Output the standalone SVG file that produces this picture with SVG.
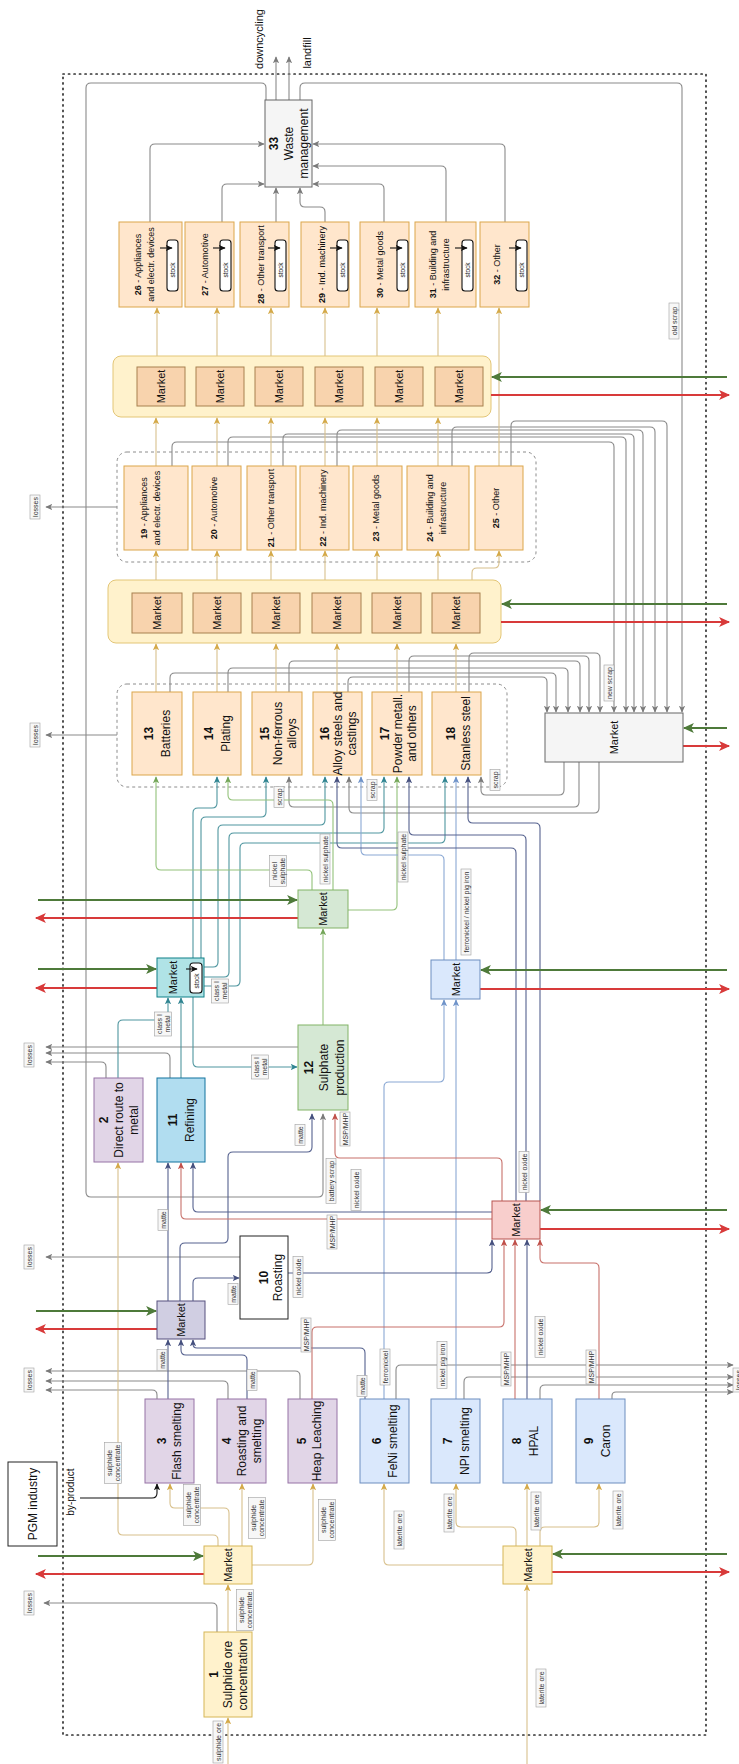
<svg xmlns="http://www.w3.org/2000/svg" width="739" height="1764" viewBox="0 0 739 1764">
<defs>
<style>
.n{font-family:"Liberation Sans",Arial,Helvetica,sans-serif;fill:#111;text-anchor:middle;dominant-baseline:central}
.f12{font-size:12px}.f11{font-size:11px}.f9{font-size:9px}.f7{font-size:6.5px}
.b{font-weight:bold}
.prod{fill:#ffe6cc;stroke:#dba64b}
.mk{fill:#f8d3ad;stroke:#a8804f}
.row{fill:#fff2cc;stroke:#e3c677}
.yel{fill:#fff2cc;stroke:#d6b656}
.pur{fill:#e1d5e7;stroke:#9673a6}
.blu{fill:#dae8fc;stroke:#6c8ebf}
.grn{fill:#d5e8d4;stroke:#82b366}
.red{fill:#f8cecc;stroke:#b85450}
.gry{fill:#f5f5f5;stroke:#666}
.ref{fill:#b1ddf0;stroke:#10739e}
.tea{fill:#b0e3e6;stroke:#0e8088}
.mat{fill:#d0cee2;stroke:#56517e}
.wht{fill:#fff;stroke:#222}
.cont{fill:none;stroke:#8c8c8c;stroke-dasharray:3 3}
.stk{fill:#fff;stroke:#111;stroke-width:1.1}
.cg,.ct,.ce,.cn,.cl,.cs,.cr,.ck,.tg,.tr{fill:none;stroke-width:1.1}
.cg{stroke:#8a8a8a;marker-end:url(#mg)}
.ct{stroke:#d8c08c;marker-end:url(#mt)}
.ce{stroke:#4f969f;marker-end:url(#me)}
.cn{stroke:#56628f;marker-end:url(#mn)}
.cl{stroke:#8aa8d4;marker-end:url(#ml)}
.cs{stroke:#93c27a;marker-end:url(#ms)}
.cr{stroke:#c8716b;marker-end:url(#mr)}
.ck{stroke:#111;marker-end:url(#mk)}
.tg{stroke:#4e7a3a;stroke-width:1.8;marker-end:url(#TG)}
.tr{stroke:#d83a3a;stroke-width:1.8;marker-end:url(#TR)}
.lb rect{fill:#f7f7f7;stroke:#a0a0a0;stroke-width:.6}
.lb text{font-family:"Liberation Sans",Arial,Helvetica,sans-serif;font-size:7px;fill:#333;text-anchor:middle;dominant-baseline:central}
</style>
<marker id="mg" viewBox="0 0 10 10" refX="9" refY="5" markerWidth="7" markerHeight="7" markerUnits="userSpaceOnUse" orient="auto"><path d="M0,0.5L10,5L0,9.5L2.5,5z" fill="#7a7a7a"/></marker>
<marker id="mt" viewBox="0 0 10 10" refX="9" refY="5" markerWidth="7" markerHeight="7" markerUnits="userSpaceOnUse" orient="auto"><path d="M0,0.5L10,5L0,9.5L2.5,5z" fill="#d4a948"/></marker>
<marker id="me" viewBox="0 0 10 10" refX="9" refY="5" markerWidth="7" markerHeight="7" markerUnits="userSpaceOnUse" orient="auto"><path d="M0,0.5L10,5L0,9.5L2.5,5z" fill="#2f8491"/></marker>
<marker id="mn" viewBox="0 0 10 10" refX="9" refY="5" markerWidth="7" markerHeight="7" markerUnits="userSpaceOnUse" orient="auto"><path d="M0,0.5L10,5L0,9.5L2.5,5z" fill="#45507e"/></marker>
<marker id="ml" viewBox="0 0 10 10" refX="9" refY="5" markerWidth="7" markerHeight="7" markerUnits="userSpaceOnUse" orient="auto"><path d="M0,0.5L10,5L0,9.5L2.5,5z" fill="#6f93c9"/></marker>
<marker id="ms" viewBox="0 0 10 10" refX="9" refY="5" markerWidth="7" markerHeight="7" markerUnits="userSpaceOnUse" orient="auto"><path d="M0,0.5L10,5L0,9.5L2.5,5z" fill="#73a558"/></marker>
<marker id="mr" viewBox="0 0 10 10" refX="9" refY="5" markerWidth="7" markerHeight="7" markerUnits="userSpaceOnUse" orient="auto"><path d="M0,0.5L10,5L0,9.5L2.5,5z" fill="#c0504a"/></marker>
<marker id="mk" viewBox="0 0 10 10" refX="9" refY="5" markerWidth="7" markerHeight="7" markerUnits="userSpaceOnUse" orient="auto"><path d="M0,0.5L10,5L0,9.5L2.5,5z" fill="#111"/></marker>
<marker id="TG" viewBox="0 0 10 10" refX="9" refY="5" markerWidth="12" markerHeight="11" markerUnits="userSpaceOnUse" orient="auto"><path d="M0,0.5L10,5L0,9.5L2.5,5z" fill="#4e7a3a"/></marker>
<marker id="TR" viewBox="0 0 10 10" refX="9" refY="5" markerWidth="12" markerHeight="11" markerUnits="userSpaceOnUse" orient="auto"><path d="M0,0.5L10,5L0,9.5L2.5,5z" fill="#d83a3a"/></marker>
</defs>
<rect width="739" height="1764" fill="#fff"/>
<rect x="63" y="74" width="643" height="1661" fill="none" stroke="#333" stroke-width="1.7" stroke-dasharray="1.2 4.3" stroke-linecap="round"/>

<g id="row2"><rect class="row" x="113" y="356" width="378" height="61" rx="8"/></g>
<g id="row1"><rect class="row" x="108" y="580" width="393" height="63" rx="8"/></g>
<g id="use-group"><rect class="cont" x="117" y="452" width="419" height="110" rx="10"/></g>
<g id="fab-group"><rect class="cont" x="117" y="684" width="390" height="103" rx="10"/></g>

<g id="connectors">
<path class="cg" d="M266,100V88Q266,83 261,83H91Q86,83 86,88V1192Q86,1197 91,1197H318Q323,1197 323,1192V1114"/>
<path class="cg" d="M300,100V88Q300,83 305,83H677Q682,83 682,88V712"/>
<path class="cg" d="M276,100V57"/>
<path class="cg" d="M289,100V57"/>
<path class="cg" d="M150,222V149Q150,144 155,144H264"/>
<path class="cg" d="M222,222V189Q222,184 227,184H264"/>
<path class="cg" d="M276,222V188"/>
<path class="cg" d="M325,222V212Q325,207 320,207H305Q300,207 300,202V188"/>
<path class="cg" d="M384,222V189Q384,184 379,184H313"/>
<path class="cg" d="M446,222V171Q446,166 441,166H313"/>
<path class="cg" d="M505,222V149Q505,144 500,144H313"/>
<path class="cg" d="M172,466V447Q172,442 177,442H609Q614,442 614,447V712"/>
<path class="cg" d="M228,466V442Q228,437 233,437H621Q626,437 626,442V712"/>
<path class="cg" d="M283,466V439Q283,434 288,434H629Q634,434 634,439V712"/>
<path class="cg" d="M337,466V435Q337,430 342,430H638Q643,430 643,435V712"/>
<path class="cg" d="M452,466V432Q452,427 457,427H650Q655,427 655,432V712"/>
<path class="cg" d="M511,466V426Q511,421 516,421H662Q667,421 667,426V712"/>
<path class="cg" d="M348,692V682Q348,677 353,677H542Q547,677 547,682V712"/>
<path class="cg" d="M170,692V678Q170,673 175,673H551Q556,673 556,678V712"/>
<path class="cg" d="M228,692V673Q228,668 233,668H563Q568,668 568,673V712"/>
<path class="cg" d="M289,692V666Q289,661 294,661H575Q580,661 580,666V712"/>
<path class="cg" d="M409,692V661Q409,656 414,656H584Q589,656 589,661V712"/>
<path class="cg" d="M469,692V658Q469,653 474,653H595Q600,653 600,658V712"/>
<path class="cg" d="M117,507H46"/>
<path class="cg" d="M117,735H46"/>
<path class="cg" d="M298,1047H46"/>
<path class="cg" d="M170,1078V1058Q170,1053 165,1053H46"/>
<path class="cg" d="M106,1078V1067Q106,1062 101,1062H46"/>
<path class="cg" d="M240,1257H46"/>
<path class="cg" d="M300,1399V1376Q300,1371 295,1371H46"/>
<path class="cg" d="M228,1399V1386Q228,1381 223,1381H46"/>
<path class="cg" d="M157,1399V1395Q157,1390 152,1390H46"/>
<path class="cg" d="M217,1632V1608Q217,1603 212,1603H44"/>
<path class="cg" d="M396,1399V1370Q396,1365 401,1365H733"/>
<path class="cg" d="M464,1399V1382Q464,1377 469,1377H733"/>
<path class="cg" d="M540,1399V1390Q540,1385 545,1385H733"/>
<path class="cg" d="M612,1399V1396Q612,1392 616,1392H733"/>
<path class="cg" d="M564,762V790Q564,795 559,795H486Q481,795 481,790V777"/>
<path class="cg" d="M579,762V802Q579,807 574,807H294Q289,807 289,802V777"/>
<path class="cg" d="M599,762V808Q599,813 594,813H354Q349,813 349,808V777"/>
<path class="ct" d="M157,356V308"/><path class="ct" d="M217,356V308"/><path class="ct" d="M271,356V308"/>
<path class="ct" d="M325,356V308"/><path class="ct" d="M377,356V308"/><path class="ct" d="M438,356V308"/>
<path class="ct" d="M499,466V308"/>
<path class="ct" d="M156,466V418"/><path class="ct" d="M217,466V418"/><path class="ct" d="M271,466V418"/>
<path class="ct" d="M325,466V418"/><path class="ct" d="M377,466V418"/><path class="ct" d="M438,466V418"/>
<path class="ct" d="M156,580V551"/><path class="ct" d="M217,580V551"/><path class="ct" d="M271,580V551"/>
<path class="ct" d="M325,580V551"/><path class="ct" d="M377,580V551"/><path class="ct" d="M438,580V551"/>
<path class="ct" d="M472,580V573Q472,568 477,568H494Q499,568 499,563V551"/>
<path class="ct" d="M156,692V644"/><path class="ct" d="M217,692V644"/><path class="ct" d="M276,692V644"/>
<path class="ct" d="M337,692V644"/><path class="ct" d="M397,692V644"/><path class="ct" d="M456,692V644"/>
<path class="ct" d="M228,1764V1718"/>
<path class="ct" d="M228,1632V1585"/>
<path class="ct" d="M218,1546V1540Q218,1535 213,1535H123Q118,1535 118,1530V1163"/>
<path class="ct" d="M229,1546V1513Q229,1508 224,1508H175Q170,1508 170,1503V1484"/>
<path class="ct" d="M242,1546V1484"/>
<path class="ct" d="M252,1565H308Q313,1565 313,1560V1484"/>
<path class="ct" d="M527,1764V1585"/>
<path class="ct" d="M503,1565H389Q384,1565 384,1560V1484"/>
<path class="ct" d="M516,1546V1532Q516,1527 511,1527H461Q456,1527 456,1522V1484"/>
<path class="ct" d="M527,1546V1484"/>
<path class="ct" d="M540,1546V1532Q540,1527 545,1527H594Q599,1527 599,1522V1484"/>
<path class="ck" d="M80,1498H152Q157,1498 157,1493V1484"/>
<path class="ce" d="M118,1078V1025Q118,1020 123,1020H163Q168,1020 168,1015V998"/>
<path class="ce" d="M181,1078V998"/>
<path class="ce" d="M193,997V1062Q193,1067 198,1067H297"/>
<path class="ce" d="M193,958V813Q193,808 198,808H212Q217,808 217,803V777"/>
<path class="ce" d="M201,958V822Q201,817 206,817H261Q266,817 266,812V777"/>
<path class="ce" d="M204,967H213Q218,967 218,962V830Q218,825 223,825H320Q325,825 325,820V777"/>
<path class="ce" d="M204,977H224Q229,977 229,972V838Q229,833 234,833H379Q384,833 384,828V777"/>
<path class="ce" d="M204,986H235Q240,986 240,981V848Q240,843 245,843H440Q445,843 445,838V777"/>
<path class="cs" d="M312,890V875Q312,870 307,870H161Q156,870 156,865V777"/>
<path class="cs" d="M333,890V805Q333,800 328,800H233Q228,800 228,795V777"/>
<path class="cs" d="M348,910H392Q397,910 397,905V777"/>
<path class="cs" d="M323,1025V929"/>
<path class="cl" d="M444,960V860Q444,855 439,855H366Q361,855 361,850V777"/>
<path class="cl" d="M456,960V777"/>
<path class="cl" d="M384,1399V1087Q384,1082 389,1082H439Q444,1082 444,1077V1000"/>
<path class="cl" d="M456,1399V1000"/>
<path class="cn" d="M540,1201V828Q540,823 535,823H473Q468,823 468,818V777"/>
<path class="cn" d="M526,1201V840Q526,835 521,835H414Q409,835 409,830V777"/>
<path class="cn" d="M516,1201V853Q516,848 511,848H342Q337,848 337,843V777"/>
<path class="cn" d="M168,1301V1163"/>
<path class="cn" d="M180,1301V1248Q180,1243 185,1243H223Q228,1243 228,1238V1157Q228,1152 233,1152H307Q312,1152 312,1147V1114"/>
<path class="cn" d="M193,1301V1283Q193,1278 198,1278H239"/>
<path class="cn" d="M168,1399V1340"/>
<path class="cn" d="M247,1399V1360Q247,1355 242,1355H186Q181,1355 181,1350V1340"/>
<path class="cn" d="M365,1399V1353Q365,1348 360,1348H197Q193,1348 193,1344V1340"/>
<path class="cn" d="M288,1273H487Q492,1273 492,1268V1240"/>
<path class="cn" d="M492,1212H198Q193,1212 193,1207V1163"/>
<path class="cn" d="M527,1399V1240"/>
<path class="cr" d="M492,1219H186Q181,1219 181,1214V1163"/>
<path class="cr" d="M502,1201V1163Q502,1158 497,1158H340Q335,1158 335,1153V1114"/>
<path class="cr" d="M312,1399V1332Q312,1327 317,1327H499Q504,1327 504,1322V1240"/>
<path class="cr" d="M515,1399V1240"/>
<path class="cr" d="M599,1399V1268Q599,1263 594,1263H545Q540,1263 540,1258V1240"/>
<path class="tg" d="M38,1556H203"/><path class="tr" d="M204,1574H36"/>
<path class="tg" d="M36,1311H156"/><path class="tr" d="M157,1329H36"/>
<path class="tg" d="M38,969H156"/><path class="tr" d="M157,988H36"/>
<path class="tg" d="M38,900H297"/><path class="tr" d="M298,918H36"/>
<path class="tg" d="M727,377H492"/><path class="tr" d="M491,395H729"/>
<path class="tg" d="M727,604H502"/><path class="tr" d="M501,622H729"/>
<path class="tg" d="M727,728H684"/><path class="tr" d="M683,746H729"/>
<path class="tg" d="M727,970H481"/><path class="tr" d="M480,989H729"/>
<path class="tg" d="M727,1210H541"/><path class="tr" d="M540,1229H729"/>
<path class="tg" d="M727,1554H553"/><path class="tr" d="M552,1572H729"/>
</g>

<g id="n26"><rect class="prod" x="119" y="222" width="63" height="85"/><text class="n f9" transform="translate(144.5,264.5) rotate(-90)"><tspan x="0" y="-6.5"><tspan class="b">26</tspan> - Appliances</tspan><tspan x="0" y="6.5">and electr. devices</tspan></text><rect class="stk" x="167" y="240" width="11" height="51" rx="3"/><text class="n f7" transform="translate(172.5,270) rotate(-90)">stock</text><path class="ck" d="M160,248H172"/></g>
<g id="n27"><rect class="prod" x="185" y="222" width="49" height="85"/><text class="n f9" transform="translate(205,264.5) rotate(-90)"><tspan class="b">27</tspan> - Automotive</text><rect class="stk" x="220" y="240" width="11" height="51" rx="3"/><text class="n f7" transform="translate(225.5,270) rotate(-90)">stock</text><path class="ck" d="M213,248H225"/></g>
<g id="n28"><rect class="prod" x="240" y="222" width="49" height="85"/><text class="n f9" transform="translate(261,264.5) rotate(-90)"><tspan class="b">28</tspan> - Other transport</text><rect class="stk" x="275" y="240" width="11" height="51" rx="3"/><text class="n f7" transform="translate(280.5,270) rotate(-90)">stock</text><path class="ck" d="M268,248H280"/></g>
<g id="n29"><rect class="prod" x="301" y="222" width="48" height="85"/><text class="n f9" transform="translate(322,264.5) rotate(-90)"><tspan class="b">29</tspan> - Ind. machinery</text><rect class="stk" x="337" y="240" width="11" height="51" rx="3"/><text class="n f7" transform="translate(342.5,270) rotate(-90)">stock</text><path class="ck" d="M330,248H342"/></g>
<g id="n30"><rect class="prod" x="360" y="222" width="49" height="85"/><text class="n f9" transform="translate(380,264.5) rotate(-90)"><tspan class="b">30</tspan> - Metal goods</text><rect class="stk" x="397" y="240" width="11" height="51" rx="3"/><text class="n f7" transform="translate(402.5,270) rotate(-90)">stock</text><path class="ck" d="M390,248H402"/></g>
<g id="n31"><rect class="prod" x="415" y="222" width="61" height="85"/><text class="n f9" transform="translate(439,264.5) rotate(-90)"><tspan x="0" y="-6.5"><tspan class="b">31</tspan> - Building and</tspan><tspan x="0" y="6.5">infrastructure</tspan></text><rect class="stk" x="462" y="240" width="11" height="51" rx="3"/><text class="n f7" transform="translate(467.5,270) rotate(-90)">stock</text><path class="ck" d="M455,248H467"/></g>
<g id="n32"><rect class="prod" x="480" y="222" width="49" height="85"/><text class="n f9" transform="translate(497,264.5) rotate(-90)"><tspan class="b">32</tspan> - Other</text><rect class="stk" x="516" y="240" width="11" height="51" rx="3"/><text class="n f7" transform="translate(521.5,270) rotate(-90)">stock</text><path class="ck" d="M509,248H521"/></g>

<g id="n33"><rect class="gry" x="265" y="100" width="47" height="87"/><text class="n f12" transform="translate(288.5,143.5) rotate(-90)"><tspan x="0" y="-15" class="b">33</tspan><tspan x="0" y="0">Waste</tspan><tspan x="0" y="15">management</tspan></text></g>
<text class="n f11" transform="translate(259,39) rotate(-90)">downcycling</text>
<text class="n f11" transform="translate(307,53) rotate(-90)">landfill</text>

<g id="mkt2-1"><rect class="mk" x="137" y="367" width="48" height="39"/><text class="n f11" transform="translate(161,386.5) rotate(-90)">Market</text></g>
<g id="mkt2-2"><rect class="mk" x="196" y="367" width="48" height="39"/><text class="n f11" transform="translate(220,386.5) rotate(-90)">Market</text></g>
<g id="mkt2-3"><rect class="mk" x="255" y="367" width="48" height="39"/><text class="n f11" transform="translate(279,386.5) rotate(-90)">Market</text></g>
<g id="mkt2-4"><rect class="mk" x="315" y="367" width="48" height="39"/><text class="n f11" transform="translate(339,386.5) rotate(-90)">Market</text></g>
<g id="mkt2-5"><rect class="mk" x="375" y="367" width="48" height="39"/><text class="n f11" transform="translate(399,386.5) rotate(-90)">Market</text></g>
<g id="mkt2-6"><rect class="mk" x="435" y="367" width="48" height="39"/><text class="n f11" transform="translate(459,386.5) rotate(-90)">Market</text></g>

<g id="n19"><rect class="prod" x="124" y="466" width="64" height="84"/><text class="n f9" transform="translate(150.5,508) rotate(-90)"><tspan x="0" y="-6.5"><tspan class="b">19</tspan> - Appliances</tspan><tspan x="0" y="6.5">and electr. devices</tspan></text></g>
<g id="n20"><rect class="prod" x="192" y="466" width="49" height="84"/><text class="n f9" transform="translate(214,508) rotate(-90)"><tspan class="b">20</tspan> - Automotive</text></g>
<g id="n21"><rect class="prod" x="247" y="466" width="49" height="84"/><text class="n f9" transform="translate(271,508) rotate(-90)"><tspan class="b">21</tspan> - Other transport</text></g>
<g id="n22"><rect class="prod" x="300" y="466" width="49" height="84"/><text class="n f9" transform="translate(323,508) rotate(-90)"><tspan class="b">22</tspan> - Ind. machinery</text></g>
<g id="n23"><rect class="prod" x="353" y="466" width="49" height="84"/><text class="n f9" transform="translate(376,508) rotate(-90)"><tspan class="b">23</tspan> - Metal goods</text></g>
<g id="n24"><rect class="prod" x="407" y="466" width="62" height="84"/><text class="n f9" transform="translate(436,508) rotate(-90)"><tspan x="0" y="-6.5"><tspan class="b">24</tspan> - Building and</tspan><tspan x="0" y="6.5">infrastructure</tspan></text></g>
<g id="n25"><rect class="prod" x="475" y="466" width="48" height="84"/><text class="n f9" transform="translate(496,508) rotate(-90)"><tspan class="b">25</tspan> - Other</text></g>

<g id="mkt1-1"><rect class="mk" x="132" y="593" width="50" height="40"/><text class="n f11" transform="translate(157,613) rotate(-90)">Market</text></g>
<g id="mkt1-2"><rect class="mk" x="193" y="593" width="48" height="40"/><text class="n f11" transform="translate(217,613) rotate(-90)">Market</text></g>
<g id="mkt1-3"><rect class="mk" x="252" y="593" width="48" height="40"/><text class="n f11" transform="translate(276,613) rotate(-90)">Market</text></g>
<g id="mkt1-4"><rect class="mk" x="312" y="593" width="49" height="40"/><text class="n f11" transform="translate(336.5,613) rotate(-90)">Market</text></g>
<g id="mkt1-5"><rect class="mk" x="372" y="593" width="49" height="40"/><text class="n f11" transform="translate(396.5,613) rotate(-90)">Market</text></g>
<g id="mkt1-6"><rect class="mk" x="432" y="593" width="48" height="40"/><text class="n f11" transform="translate(456,613) rotate(-90)">Market</text></g>

<g id="n13"><rect class="prod" x="132" y="692" width="50" height="83"/><text class="n f12" transform="translate(157,733.5) rotate(-90)"><tspan x="0" y="-8.5" class="b">13</tspan><tspan x="0" y="8.5">Batteries</tspan></text></g>
<g id="n14"><rect class="prod" x="193" y="692" width="48" height="83"/><text class="n f12" transform="translate(217,733.5) rotate(-90)"><tspan x="0" y="-8.5" class="b">14</tspan><tspan x="0" y="8.5">Plating</tspan></text></g>
<g id="n15"><rect class="prod" x="252" y="692" width="50" height="83"/><text class="n f12" transform="translate(278,733.5) rotate(-90)"><tspan x="0" y="-13.5" class="b">15</tspan><tspan x="0" y="0">Non-ferrous</tspan><tspan x="0" y="13.5">alloys</tspan></text></g>
<g id="n16"><rect class="prod" x="313" y="692" width="49" height="83"/><text class="n f12" transform="translate(338,733.5) rotate(-90)"><tspan x="0" y="-13.5" class="b">16</tspan><tspan x="0" y="0">Alloy steels and</tspan><tspan x="0" y="13.5">castings</tspan></text></g>
<g id="n17"><rect class="prod" x="372" y="692" width="50" height="83"/><text class="n f12" transform="translate(398,733.5) rotate(-90)"><tspan x="0" y="-13.5" class="b">17</tspan><tspan x="0" y="0">Powder metall.</tspan><tspan x="0" y="13.5">and others</tspan></text></g>
<g id="n18"><rect class="prod" x="432" y="692" width="49" height="83"/><text class="n f12" transform="translate(458,733.5) rotate(-90)"><tspan x="0" y="-7.5" class="b">18</tspan><tspan x="0" y="7.5">Stanless steel</tspan></text></g>

<g id="m-scrap"><rect class="gry" x="545" y="713" width="138" height="49"/><text class="n f11" transform="translate(614,737.5) rotate(-90)">Market</text></g>
<g id="m-sulphate"><rect class="grn" x="298" y="890" width="50" height="38"/><text class="n f11" transform="translate(323,909) rotate(-90)">Market</text></g>
<g id="m-class1"><rect class="tea" x="157" y="958" width="47" height="39"/><text class="n f11" transform="translate(173,977.5) rotate(-90)">Market</text><rect class="stk" x="190" y="963" width="12" height="30" rx="3"/><text class="n f7" transform="translate(196,981) rotate(-90)">stock</text><path class="ck" d="M186,969H197"/></g>
<g id="m-fenpi"><rect class="blu" x="431" y="960" width="49" height="39"/><text class="n f11" transform="translate(455.5,979.5) rotate(-90)">Market</text></g>

<g id="n2"><rect class="pur" x="94" y="1078" width="49" height="84"/><text class="n f12" transform="translate(118.5,1120) rotate(-90)"><tspan x="0" y="-15" class="b">2</tspan><tspan x="0" y="0">Direct route to</tspan><tspan x="0" y="15">metal</tspan></text></g>
<g id="n11"><rect class="ref" x="157" y="1078" width="48" height="84"/><text class="n f12" transform="translate(181,1120) rotate(-90)"><tspan x="0" y="-8.5" class="b">11</tspan><tspan x="0" y="8.5">Refining</tspan></text></g>
<g id="n12"><rect class="grn" x="298" y="1025" width="50" height="85"/><text class="n f12" transform="translate(324,1067.5) rotate(-90)"><tspan x="0" y="-15.5" class="b">12</tspan><tspan x="0" y="0">Sulphate</tspan><tspan x="0" y="15.5">production</tspan></text></g>

<g id="m-nio"><rect class="red" x="492" y="1201" width="48" height="38"/><text class="n f11" transform="translate(516,1220) rotate(-90)">Market</text></g>
<g id="n10"><rect class="wht" x="240" y="1236" width="48" height="83"/><text class="n f12" transform="translate(271,1277.5) rotate(-90)"><tspan x="0" y="-7" class="b">10</tspan><tspan x="0" y="7">Roasting</tspan></text></g>
<g id="m-matte"><rect class="mat" x="157" y="1301" width="48" height="38"/><text class="n f11" transform="translate(181,1320) rotate(-90)">Market</text></g>

<g id="n3"><rect class="pur" x="145" y="1399" width="49" height="84"/><text class="n f12" transform="translate(169.5,1441) rotate(-90)"><tspan x="0" y="-7.5" class="b">3</tspan><tspan x="0" y="7.5">Flash smelting</tspan></text></g>
<g id="n4"><rect class="pur" x="217" y="1399" width="49" height="84"/><text class="n f12" transform="translate(242,1441) rotate(-90)"><tspan x="0" y="-15" class="b">4</tspan><tspan x="0" y="0">Roasting and</tspan><tspan x="0" y="15">smelting</tspan></text></g>
<g id="n5"><rect class="pur" x="288" y="1399" width="49" height="84"/><text class="n f12" transform="translate(309,1441) rotate(-90)"><tspan x="0" y="-7.5" class="b">5</tspan><tspan x="0" y="7.5">Heap Leaching</tspan></text></g>
<g id="n6"><rect class="blu" x="360" y="1399" width="49" height="84"/><text class="n f12" transform="translate(385,1441) rotate(-90)"><tspan x="0" y="-8" class="b">6</tspan><tspan x="0" y="8">FeNi smelting</tspan></text></g>
<g id="n7"><rect class="blu" x="431" y="1399" width="49" height="84"/><text class="n f12" transform="translate(456,1441) rotate(-90)"><tspan x="0" y="-8.5" class="b">7</tspan><tspan x="0" y="8.5">NPI smelting</tspan></text></g>
<g id="n8"><rect class="blu" x="503" y="1399" width="49" height="84"/><text class="n f12" transform="translate(525.5,1441) rotate(-90)"><tspan x="0" y="-8.5" class="b">8</tspan><tspan x="0" y="8.5">HPAL</tspan></text></g>
<g id="n9"><rect class="blu" x="576" y="1399" width="49" height="84"/><text class="n f12" transform="translate(597.5,1441) rotate(-90)"><tspan x="0" y="-8.5" class="b">9</tspan><tspan x="0" y="8.5">Caron</tspan></text></g>

<g id="pgm"><rect class="wht" x="8" y="1462" width="49" height="84"/><text class="n f12" transform="translate(32.5,1504) rotate(-90)">PGM industry</text></g>
<text class="n" style="font-size:10px" transform="translate(70,1492) rotate(-90)">by-product</text>
<g id="m-sulphide"><rect class="yel" x="204" y="1546" width="48" height="38"/><text class="n f11" transform="translate(228,1565) rotate(-90)">Market</text></g>
<g id="m-laterite"><rect class="yel" x="503" y="1546" width="49" height="38"/><text class="n f11" transform="translate(527.5,1565) rotate(-90)">Market</text></g>
<g id="n1"><rect class="yel" x="204" y="1632" width="48" height="85"/><text class="n f12" transform="translate(228,1674.5) rotate(-90)"><tspan x="0" y="-14.5" class="b">1</tspan><tspan x="0" y="0">Sulphide ore</tspan><tspan x="0" y="14.5">concentration</tspan></text></g>

<g id="labels">
<g class="lb" transform="translate(35,507) rotate(-90)"><rect x="-12" y="-5" width="24" height="10"/><text>losses</text></g>
<g class="lb" transform="translate(35,735) rotate(-90)"><rect x="-12" y="-5" width="24" height="10"/><text>losses</text></g>
<g class="lb" transform="translate(29,1055) rotate(-90)"><rect x="-12" y="-5" width="24" height="10"/><text>losses</text></g>
<g class="lb" transform="translate(29,1257) rotate(-90)"><rect x="-12" y="-5" width="24" height="10"/><text>losses</text></g>
<g class="lb" transform="translate(29,1380) rotate(-90)"><rect x="-12" y="-5" width="24" height="10"/><text>losses</text></g>
<g class="lb" transform="translate(29,1603) rotate(-90)"><rect x="-12" y="-5" width="24" height="10"/><text>losses</text></g>
<g class="lb" transform="translate(738,1380) rotate(-90)"><rect x="-12" y="-5" width="24" height="10"/><text>losses</text></g>
<g class="lb" transform="translate(674,321) rotate(-90)"><rect x="-18" y="-5" width="36" height="10"/><text>old scrap</text></g>
<g class="lb" transform="translate(609,683) rotate(-90)"><rect x="-18" y="-5" width="36" height="10"/><text>new scrap</text></g>
<g class="lb" transform="translate(495,780) rotate(-90)"><rect x="-10.5" y="-5" width="21" height="10"/><text>scrap</text></g>
<g class="lb" transform="translate(279,797) rotate(-90)"><rect x="-10.5" y="-5" width="21" height="10"/><text>scrap</text></g>
<g class="lb" transform="translate(372,790) rotate(-90)"><rect x="-10.5" y="-5" width="21" height="10"/><text>scrap</text></g>
<g class="lb" transform="translate(278,871) rotate(-90)"><rect x="-15.5" y="-8.5" width="31" height="17"/><text><tspan x="0" y="-4">nickel</tspan><tspan x="0" y="4">sulphate</tspan></text></g>
<g class="lb" transform="translate(325,859) rotate(-90)"><rect x="-25" y="-5" width="50" height="10"/><text>nickel sulphate</text></g>
<g class="lb" transform="translate(403,857) rotate(-90)"><rect x="-25" y="-5" width="50" height="10"/><text>nickel sulphate</text></g>
<g class="lb" transform="translate(466,912) rotate(-90)"><rect x="-43" y="-5" width="86" height="10"/><text>ferronickel / nickel pig iron</text></g>
<g class="lb" transform="translate(163,1024) rotate(-90)"><rect x="-12" y="-8.5" width="24" height="17"/><text><tspan x="0" y="-4">class I</tspan><tspan x="0" y="4">metal</tspan></text></g>
<g class="lb" transform="translate(260,1067) rotate(-90)"><rect x="-12" y="-8.5" width="24" height="17"/><text><tspan x="0" y="-4">class I</tspan><tspan x="0" y="4">metal</tspan></text></g>
<g class="lb" transform="translate(220,991) rotate(-90)"><rect x="-12" y="-8.5" width="24" height="17"/><text><tspan x="0" y="-4">class I</tspan><tspan x="0" y="4">metal</tspan></text></g>
<g class="lb" transform="translate(300,1135) rotate(-90)"><rect x="-10.5" y="-5" width="21" height="10"/><text>matte</text></g>
<g class="lb" transform="translate(331,1181) rotate(-90)"><rect x="-22.5" y="-5" width="45" height="10"/><text>battery scrap</text></g>
<g class="lb" transform="translate(345,1129) rotate(-90)"><rect x="-17" y="-5" width="34" height="10"/><text>MSP/MHP</text></g>
<g class="lb" transform="translate(356,1190) rotate(-90)"><rect x="-20.5" y="-5" width="41" height="10"/><text>nickel oxide</text></g>
<g class="lb" transform="translate(332,1232) rotate(-90)"><rect x="-17" y="-5" width="34" height="10"/><text>MSP/MHP</text></g>
<g class="lb" transform="translate(163,1220) rotate(-90)"><rect x="-10.5" y="-5" width="21" height="10"/><text>matte</text></g>
<g class="lb" transform="translate(233,1294) rotate(-90)"><rect x="-10.5" y="-5" width="21" height="10"/><text>matte</text></g>
<g class="lb" transform="translate(298,1277) rotate(-90)"><rect x="-20.5" y="-5" width="41" height="10"/><text>nickel oxide</text></g>
<g class="lb" transform="translate(306,1335) rotate(-90)"><rect x="-17" y="-5" width="34" height="10"/><text>MSP/MHP</text></g>
<g class="lb" transform="translate(162,1360) rotate(-90)"><rect x="-10.5" y="-5" width="21" height="10"/><text>matte</text></g>
<g class="lb" transform="translate(252,1380) rotate(-90)"><rect x="-10.5" y="-5" width="21" height="10"/><text>matte</text></g>
<g class="lb" transform="translate(362,1386) rotate(-90)"><rect x="-10.5" y="-5" width="21" height="10"/><text>matte</text></g>
<g class="lb" transform="translate(385,1367) rotate(-90)"><rect x="-18" y="-5" width="36" height="10"/><text>ferronickel</text></g>
<g class="lb" transform="translate(442,1365) rotate(-90)"><rect x="-23.5" y="-5" width="47" height="10"/><text>nickel pig iron</text></g>
<g class="lb" transform="translate(506,1369) rotate(-90)"><rect x="-17" y="-5" width="34" height="10"/><text>MSP/MHP</text></g>
<g class="lb" transform="translate(540,1337) rotate(-90)"><rect x="-20.5" y="-5" width="41" height="10"/><text>nickel oxide</text></g>
<g class="lb" transform="translate(591,1367) rotate(-90)"><rect x="-17" y="-5" width="34" height="10"/><text>MSP/MHP</text></g>
<g class="lb" transform="translate(524,1172) rotate(-90)"><rect x="-20.5" y="-5" width="41" height="10"/><text>nickel oxide</text></g>
<g class="lb" transform="translate(399,1530) rotate(-90)"><rect x="-19" y="-5" width="38" height="10"/><text>laterite ore</text></g>
<g class="lb" transform="translate(449,1513) rotate(-90)"><rect x="-19" y="-5" width="38" height="10"/><text>laterite ore</text></g>
<g class="lb" transform="translate(536,1511) rotate(-90)"><rect x="-19" y="-5" width="38" height="10"/><text>laterite ore</text></g>
<g class="lb" transform="translate(618,1510) rotate(-90)"><rect x="-19" y="-5" width="38" height="10"/><text>laterite ore</text></g>
<g class="lb" transform="translate(541,1688) rotate(-90)"><rect x="-19" y="-5" width="38" height="10"/><text>laterite ore</text></g>
<g class="lb" transform="translate(113,1463) rotate(-90)"><rect x="-20.5" y="-8.5" width="41" height="17"/><text><tspan x="0" y="-4">sulphide</tspan><tspan x="0" y="4">concentrate</tspan></text></g>
<g class="lb" transform="translate(192,1505) rotate(-90)"><rect x="-20.5" y="-8.5" width="41" height="17"/><text><tspan x="0" y="-4">sulphide</tspan><tspan x="0" y="4">concentrate</tspan></text></g>
<g class="lb" transform="translate(257,1518) rotate(-90)"><rect x="-20.5" y="-8.5" width="41" height="17"/><text><tspan x="0" y="-4">sulphide</tspan><tspan x="0" y="4">concentrate</tspan></text></g>
<g class="lb" transform="translate(327,1520) rotate(-90)"><rect x="-20.5" y="-8.5" width="41" height="17"/><text><tspan x="0" y="-4">sulphide</tspan><tspan x="0" y="4">concentrate</tspan></text></g>
<g class="lb" transform="translate(245,1610) rotate(-90)"><rect x="-20.5" y="-8.5" width="41" height="17"/><text><tspan x="0" y="-4">sulphide</tspan><tspan x="0" y="4">concentrate</tspan></text></g>
<g class="lb" transform="translate(218,1742) rotate(-90)"><rect x="-21" y="-5" width="42" height="10"/><text>sulphide ore</text></g>
</g>
</svg>
